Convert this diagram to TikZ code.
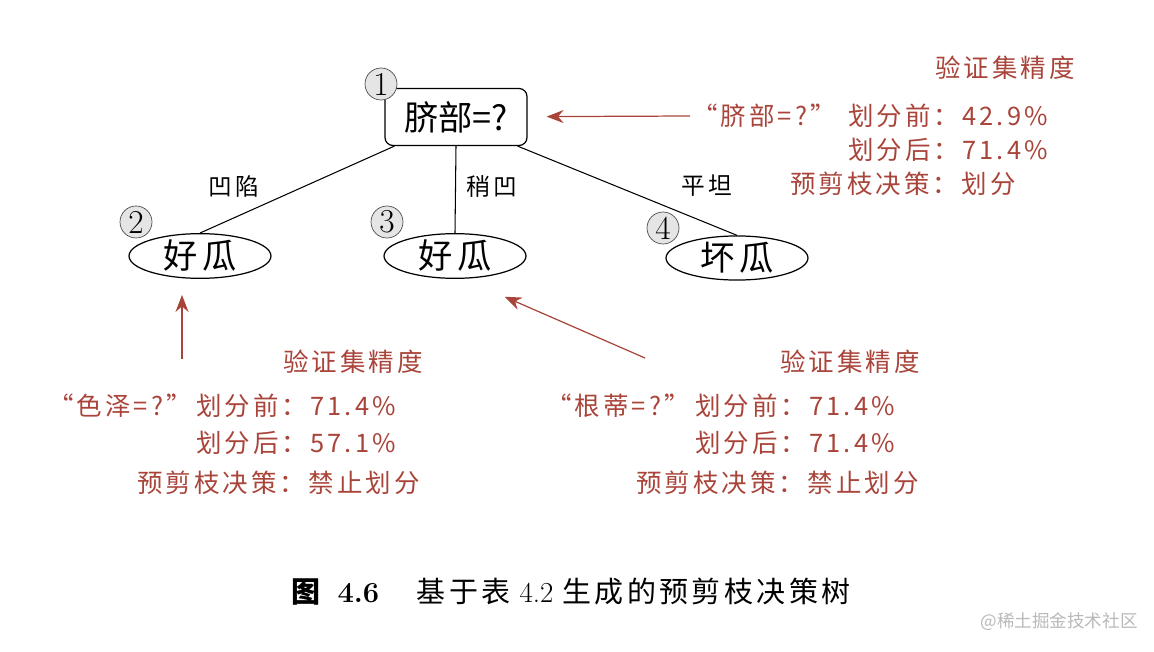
\documentclass[tikz,border=0pt]{standalone}
\usepackage{fontspec}
\newfontfamily\cjk{Noto Sans CJK SC}
\newfontfamily\cjksp[LetterSpace=12]{Noto Sans CJK SC}
\usetikzlibrary{shapes.geometric,arrows.meta}
\definecolor{annot}{HTML}{A9443A}
\newcommand\setfs[1]{\fontsize{#1}{#1}\selectfont}

\begin{document}
\begin{tikzpicture}[x=0.02cm,y=-0.02cm,
  every node/.style={inner sep=0pt},
  testbox/.style={draw, rounded corners=0.16cm, minimum width=2.84cm, minimum height=1.14cm, line width=0.7pt, font=\cjk\setfs{19.5}},
  leafbox/.style={draw, ellipse, minimum width=2.84cm, minimum height=0.88cm, line width=0.7pt, font=\cjksp\setfs{19.5}},
  numbox/.style={draw=black!70, fill=gray!20, circle, minimum size=0.64cm, font=\setfs{19}},
  branch/.style={line width=0.6pt},
  branchlabel/.style={font=\cjksp\setfs{13.5}},
  note/.style={anchor=west, text=annot, font=\cjksp\setfs{14.5}},
  quote/.style={note, anchor=east},
  noteline/.style={draw=annot, line width=0.7pt, -{Stealth[length=0.34cm,width=0.26cm]}}
]
  \useasboundingbox (0,0) rectangle (1154,652);

  % ========== Tree ==========
  \node[testbox] (root) at (456,117) {脐部=?};
  \node[leafbox] (leaf2) at (200,256) {好瓜};
  \node[leafbox] (leaf3) at (455,256) {好瓜};
  \node[leafbox] (leaf4) at (737,258) {坏瓜};

  % branches
  \draw[branch] ([xshift=0.2cm]root.south west) -- (leaf2.north);
  \draw[branch] (root.south) -- (leaf3.north);
  \draw[branch] ([xshift=-0.2cm]root.south east) -- (leaf4.north);
  \node[branchlabel] (lbl2) at (234,186) {凹陷};
  \node[branchlabel] (lbl3) at (492,186) {稍凹};
  \node[branchlabel] (lbl4) at (707,186) {平坦};

  % circled numbers
  \node[numbox] (n1) at (381,84) {1};
  \node[numbox] (n2) at (136,222) {2};
  \node[numbox] (n3) at (387,222) {3};
  \node[numbox] (n4) at (663,228) {4};

  % ========== Validation notes ==========
  % node 1
  \node[note] (t1) at (935,68) {验证集精度};
  \node[quote] (q1) at (836,116) {“脐部=?”};
  \node[note] (b1) at (848,116) {划分前：42.9\%};
  \node[note] (p1) at (848,150) {划分后：71.4\%};
  \node[note] (d1) at (790,184) {预剪枝决策：划分};
  % node 2
  \node[note] (t2) at (283,362) {验证集精度};
  \node[quote] (q2) at (192,406) {“色泽=?”};
  \node[note] (b2) at (196,406) {划分前：71.4\%};
  \node[note] (p2) at (196,443) {划分后：57.1\%};
  \node[note] (d2) at (137,483) {预剪枝决策：禁止划分};
  % node 3
  \node[note] (t3) at (780,362) {验证集精度};
  \node[quote] (q3) at (690,406) {“根蒂=?”};
  \node[note] (b3) at (695,406) {划分前：71.4\%};
  \node[note] (p3) at (695,443) {划分后：71.4\%};
  \node[note] (d3) at (636,483) {预剪枝决策：禁止划分};

  % arrows
  \coordinate (a1) at (690,116);
  \coordinate (a2) at (182,359);
  \coordinate (a3) at (645,358);
  \draw[noteline, shorten >=0.38cm] (a1) -- (root);
  \draw[noteline, shorten >=0.32cm] (a2) -- (a2 |- leaf2.south);
  \draw[noteline, shorten >=0.9cm] (a3) -- (leaf3.-70);

  % ========== Caption ==========
  \node (caption) at (571,592) {\setfs{16.5}{\cjksp\bfseries 图}\hspace{0.6em}{\bfseries 4.6}\hspace{1.3em}{\cjksp 基于表}\hspace{0.3em}4.2\hspace{0.3em}{\cjksp 生成的预剪枝决策树}};
  \node[anchor=east, text=gray!55, font=\cjk\setfs{10}] (mark) at (1138,622) {@稀土掘金技术社区};
\end{tikzpicture}
\end{document}
